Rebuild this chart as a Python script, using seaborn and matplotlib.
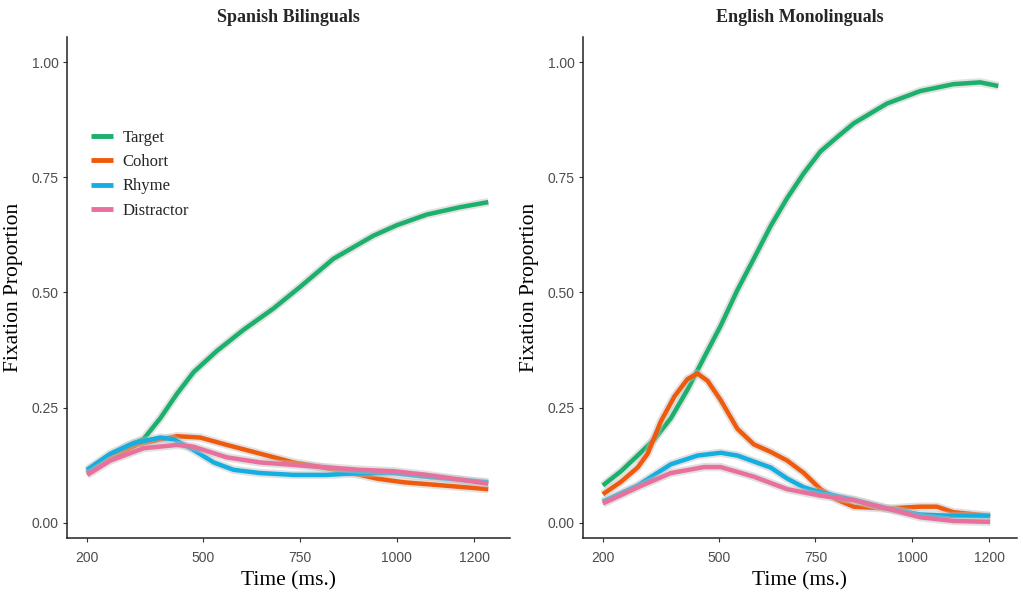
import numpy as np
import pandas as pd
import matplotlib.pyplot as plt
import matplotlib.patheffects as pe
import seaborn as sns

# values (time in ms, fixation proportion)
conditions = ['Target', 'Cohort', 'Rhyme', 'Distractor']
colors = {'Target': '#1bb06c', 'Cohort': '#f05a0c', 'Rhyme': '#14aee0', 'Distractor': '#e8709c'}

# Spanish Bilinguals
sb_target_t = [200, 250, 300, 346, 389, 432, 475, 535, 604, 681, 750, 836, 939, 1000, 1077, 1163, 1236]
sb_target_v = [0.112, 0.14, 0.165, 0.182, 0.227, 0.28, 0.327, 0.373, 0.419, 0.465, 0.512, 0.573, 0.623, 0.646, 0.669, 0.685, 0.696]
sb_cohort_t = [200, 260, 329, 389, 432, 492, 561, 647, 733, 776, 862, 948, 1017, 1120, 1236]
sb_cohort_v = [0.108, 0.142, 0.169, 0.181, 0.188, 0.185, 0.169, 0.15, 0.131, 0.125, 0.112, 0.096, 0.088, 0.081, 0.073]
sb_rhyme_t = [200, 260, 320, 389, 424, 475, 527, 578, 647, 733, 819, 905, 991, 1077, 1236]
sb_rhyme_v = [0.115, 0.15, 0.173, 0.185, 0.181, 0.158, 0.131, 0.115, 0.108, 0.104, 0.104, 0.108, 0.108, 0.1, 0.088]
sb_distr_t = [200, 260, 346, 432, 475, 561, 647, 776, 905, 991, 1077, 1236]
sb_distr_v = [0.104, 0.135, 0.162, 0.169, 0.165, 0.142, 0.131, 0.123, 0.115, 0.112, 0.104, 0.085]

# English Monolinguals
em_target_t = [200, 247, 290, 333, 376, 419, 462, 505, 548, 591, 634, 677, 720, 763, 806, 849, 935, 1021, 1107, 1176, 1223]
em_target_v = [0.081, 0.112, 0.146, 0.181, 0.227, 0.289, 0.359, 0.428, 0.505, 0.574, 0.644, 0.705, 0.759, 0.806, 0.837, 0.867, 0.91, 0.937, 0.952, 0.956, 0.948]
em_cohort_t = [200, 247, 290, 316, 350, 385, 419, 445, 471, 505, 548, 591, 634, 677, 720, 763, 806, 849, 935, 1021, 1064, 1107, 1202]
em_cohort_v = [0.062, 0.089, 0.12, 0.15, 0.22, 0.274, 0.312, 0.324, 0.308, 0.266, 0.204, 0.17, 0.154, 0.135, 0.108, 0.073, 0.05, 0.035, 0.031, 0.035, 0.035, 0.023, 0.015]
em_rhyme_t = [200, 290, 376, 445, 505, 548, 634, 677, 720, 763, 849, 935, 1021, 1107, 1202]
em_rhyme_v = [0.046, 0.081, 0.127, 0.146, 0.152, 0.146, 0.12, 0.096, 0.077, 0.066, 0.05, 0.031, 0.018, 0.015, 0.015]
em_distr_t = [200, 290, 376, 462, 505, 591, 677, 763, 849, 935, 1021, 1107, 1202]
em_distr_v = [0.042, 0.077, 0.108, 0.121, 0.121, 0.1, 0.073, 0.059, 0.049, 0.031, 0.012, 0.004, 0.002]

x_ticks = [200, 500, 750, 1000, 1200]
y_ticks = [0.0, 0.25, 0.5, 0.75, 1.0]


def long_df(series):
    rows = []
    for cond, (t, v) in zip(conditions, series):
        rows.append(pd.DataFrame({'Time': t, 'Fixation': v, 'AOI': cond}))
    return pd.concat(rows, ignore_index=True)


df_sb = long_df([(sb_target_t, sb_target_v), (sb_cohort_t, sb_cohort_v),
                 (sb_rhyme_t, sb_rhyme_v), (sb_distr_t, sb_distr_v)])
df_em = long_df([(em_target_t, em_target_v), (em_cohort_t, em_cohort_v),
                 (em_rhyme_t, em_rhyme_v), (em_distr_t, em_distr_v)])

sns.set_theme(style='white')
plt.rcParams['font.family'] = ['Liberation Serif', 'DejaVu Serif']

fig = plt.figure(figsize=(10.23, 5.92), dpi=100)
ax1 = fig.add_axes([0.0655, 0.0912, 0.433, 0.846])
ax2 = fig.add_axes([0.570, 0.0912, 0.424, 0.846])

panels = [(ax1, df_sb, 'Spanish Bilinguals', (148, 1292)),
          (ax2, df_em, 'English Monolinguals', (149, 1271))]

for ax, d, title, xl in panels:
    sns.lineplot(data=d, x='Time', y='Fixation', hue='AOI', hue_order=conditions,
                 palette=colors, linewidth=3.2, ax=ax, legend=(ax is ax1))
    for ln in ax.lines:
        ln.set_path_effects([pe.Stroke(linewidth=6, foreground='#bdbdbd', alpha=0.45), pe.Normal()])
        ln.set_solid_capstyle('butt')
    ax.set_xlim(*xl)
    ax.set_ylim(-0.033, 1.054)
    ax.set_xticks(x_ticks)
    ax.set_xticklabels([str(t) for t in x_ticks])
    ax.set_yticks(y_ticks)
    ax.set_yticklabels(['%.2f' % v for v in y_ticks])
    for lab in ax.get_xticklabels() + ax.get_yticklabels():
        lab.set_family(['Liberation Sans', 'DejaVu Sans'])
        lab.set_fontsize(10)
        lab.set_color('#4d4d4d')
    ax.tick_params(axis='both', length=3, width=0.8, color='#333333', pad=3, bottom=True, left=True)
    ax.tick_params(axis='x', pad=6)
    for s in ['top', 'right']:
        ax.spines[s].set_visible(False)
    for s in ['left', 'bottom']:
        ax.spines[s].set_color('#222222')
        ax.spines[s].set_linewidth(1.1)
    ax.set_xlabel('Time (ms.)', fontsize=15.5, labelpad=5, color='black')
    ax.set_ylabel('Fixation Proportion', fontsize=15.5, labelpad=6, color='black')
    ax.set_title(title, fontsize=13, fontweight='bold', pad=11)

leg = ax1.legend(loc='upper left', bbox_to_anchor=(0.02, 0.845), frameon=False,
                 fontsize=12, handlelength=1.3, handletextpad=0.6, labelspacing=0.5)
for h in leg.get_lines():
    h.set_linewidth(3.5)
    h.set_path_effects([])

fig.savefig('out.png', dpi=100)
